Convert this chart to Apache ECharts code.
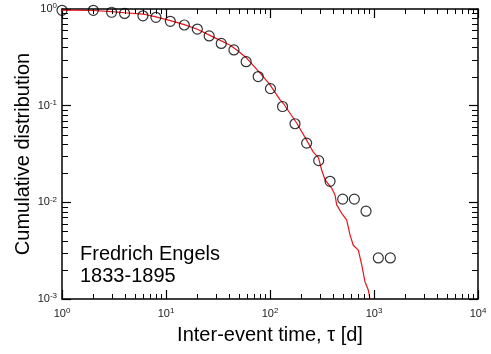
<!DOCTYPE html>
<html>
<head>
<meta charset="utf-8">
<script src="https://cdn.jsdelivr.net/npm/echarts@6/dist/echarts.min.js"></script>
<style>html,body{margin:0;padding:0;background:#fff;}#c{width:491px;height:354px;}</style>
</head>
<body>
<div id="c"></div>
<script>
// Observed binned distribution (open circles)
var circleTau = [1, 2, 3, 4, 6, 8, 11, 15, 20, 26, 34, 45, 59, 77, 101, 132, 174, 225, 294, 378, 500, 647, 838, 1100, 1435];
var circleP = [0.97, 0.97, 0.925, 0.90, 0.85, 0.82, 0.746, 0.683, 0.62, 0.526, 0.44, 0.377, 0.285, 0.20, 0.15, 0.098, 0.065, 0.041, 0.027, 0.0165, 0.0108, 0.0108, 0.0081, 0.00266, 0.00266];
// Red curve
var lineTau = [1, 2, 3, 4, 6, 8, 11, 15, 20, 30, 41, 48, 60, 86, 100, 125, 134, 181, 225, 261, 292, 314, 338, 392, 422, 438, 489, 546, 588, 632, 707, 762, 819, 881, 915];
var lineP = [0.975, 0.965, 0.94, 0.915, 0.887, 0.83, 0.757, 0.69, 0.617, 0.5, 0.424, 0.377, 0.309, 0.2, 0.164, 0.1146, 0.106, 0.0658, 0.044, 0.033, 0.029, 0.0216, 0.0171, 0.014, 0.0119, 0.0094, 0.0077, 0.0066, 0.0046, 0.0036, 0.0032, 0.00225, 0.00151, 0.00124, 0.001];
// Axis tick exponents
var xTickExp = [0, 1, 2, 3, 4];
var yTickExp = [-3, -2, -1, 0];
var minorMult = [2, 3, 4, 5, 6, 7, 8, 9];

var FONT = '"Liberation Sans", Arial, sans-serif';
var xMin = Math.pow(10, xTickExp[0]), xMax = Math.pow(10, xTickExp[xTickExp.length - 1]);
var yMin = Math.pow(10, yTickExp[0]), yMax = Math.pow(10, yTickExp[yTickExp.length - 1]);

var xMinor = [], yMinor = [];
for (var i = 0; i < xTickExp.length - 1; i++) minorMult.forEach(function (m) { xMinor.push([m * Math.pow(10, xTickExp[i]), 0.01]); });
for (var j = 0; j < yTickExp.length - 1; j++) minorMult.forEach(function (m) { yMinor.push([10, +(m * Math.pow(10, yTickExp[j])).toPrecision(3)]); });

function expLabel(v) {
  var e = Math.round(Math.log10(v));
  return '{b|10}{s|' + e + '}';
}
var rich = {
  b: { fontSize: 11, fontFamily: FONT, color: '#222', lineHeight: 14 },
  s: { fontSize: 8, fontFamily: FONT, color: '#222', lineHeight: 9, verticalAlign: 'top' }
};
var lineStyleAx = { color: '#000', width: 1.5 };
var tickStyle = { color: '#000', width: 1.2 };

function px(v) { return Math.round(v) + 0.5; }

var chart = echarts.init(document.getElementById('c'), null, { renderer: 'canvas' });
chart.setOption({
  animation: false,
  backgroundColor: '#fff',
  grid: { left: 62, right: 13, top: 9, bottom: 55, containLabel: false },
  xAxis: [{
    type: 'log', logBase: 10, min: xMin, max: xMax, interval: 1,
    name: 'Inter-event time, \u03c4 [d]', nameLocation: 'middle', nameGap: 26, nameMoveOverlap: false,
    nameTextStyle: { fontSize: 20, fontFamily: FONT, color: '#000' },
    axisLine: { show: true, lineStyle: lineStyleAx },
    axisTick: { show: true, inside: true, length: 9, lineStyle: tickStyle },
    axisLabel: { margin: 8, formatter: expLabel, rich: rich },
    splitLine: { show: false }, minorTick: { show: false }
  }, {
    type: 'log', logBase: 10, min: xMin, max: xMax, interval: 1, position: 'top',
    axisLine: { show: true, lineStyle: lineStyleAx },
    axisTick: { show: true, inside: true, length: 9, lineStyle: tickStyle },
    axisLabel: { show: false }, splitLine: { show: false }
  }],
  yAxis: [{
    type: 'log', logBase: 10, min: yMin, max: yMax, interval: 1,
    name: 'Cumulative distribution', nameLocation: 'middle', nameGap: 29, nameMoveOverlap: false,
    nameTextStyle: { fontSize: 20, fontFamily: FONT, color: '#000' },
    axisLine: { show: true, lineStyle: lineStyleAx },
    axisTick: { show: true, inside: true, length: 9, lineStyle: tickStyle },
    axisLabel: { margin: 5, formatter: expLabel, rich: rich },
    splitLine: { show: false }
  }, {
    type: 'log', logBase: 10, min: yMin, max: yMax, interval: 1, position: 'right',
    axisLine: { show: true, lineStyle: lineStyleAx },
    axisTick: { show: true, inside: true, length: 9, lineStyle: tickStyle },
    axisLabel: { show: false }, splitLine: { show: false }
  }],
  graphic: [{
    type: 'text', left: 80, top: 243, z: 10,
    style: { text: 'Fredrich Engels\n1833-1895', font: '20px ' + FONT, fill: '#000', lineHeight: 22 }
  }],
  series: [{
    type: 'custom', xAxisIndex: 0, yAxisIndex: 0, silent: true, clip: false, z: 5,
    data: xMinor,
    renderItem: function (params, api) {
      var v = api.value(0);
      var b = api.coord([v, yMin]), t = api.coord([v, yMax]);
      var x = px(b[0]);
      return { type: 'group', children: [
        { type: 'line', shape: { x1: x, y1: b[1], x2: x, y2: b[1] - 5 }, style: { stroke: '#000', lineWidth: 1 } },
        { type: 'line', shape: { x1: x, y1: t[1], x2: x, y2: t[1] + 5 }, style: { stroke: '#000', lineWidth: 1 } }
      ] };
    }
  }, {
    type: 'custom', xAxisIndex: 0, yAxisIndex: 0, silent: true, clip: false, z: 5,
    data: yMinor,
    renderItem: function (params, api) {
      var v = api.value(1);
      var l = api.coord([xMin, v]), r = api.coord([xMax, v]);
      var y = px(l[1]);
      return { type: 'group', children: [
        { type: 'line', shape: { x1: l[0], y1: y, x2: l[0] + 6, y2: y }, style: { stroke: '#000', lineWidth: 1 } },
        { type: 'line', shape: { x1: r[0], y1: y, x2: r[0] - 6, y2: y }, style: { stroke: '#000', lineWidth: 1 } }
      ] };
    }
  }, {
    type: 'line', xAxisIndex: 0, yAxisIndex: 0,
    data: lineTau.map(function (t, k) { return [t, lineP[k]]; }),
    showSymbol: false, symbol: 'none', smooth: false,
    lineStyle: { color: '#e8141b', width: 1.2 }, z: 3
  }, {
    type: 'scatter', xAxisIndex: 0, yAxisIndex: 0,
    data: circleTau.map(function (t, k) { return [t, circleP[k]]; }),
    symbol: 'circle', symbolSize: 10, clip: false,
    itemStyle: { color: 'rgba(0,0,0,0)', borderColor: '#000', borderWidth: 1.2 }, z: 4
  }]
});
</script>
</body>
</html>
